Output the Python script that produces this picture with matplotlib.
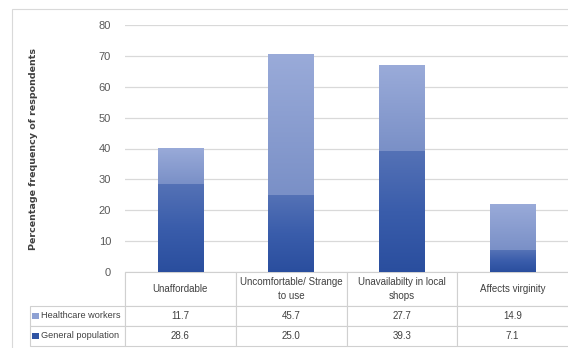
import numpy as np
import matplotlib.pyplot as plt
from matplotlib.colors import LinearSegmentedColormap
from matplotlib.patches import Rectangle

plt.rcParams['font.family'] = ['Liberation Sans Narrow', 'Liberation Sans', 'DejaVu Sans']

categories = ['Unaffordable', 'Uncomfortable/ Strange\nto use',
              'Unavailabilty in local\nshops', 'Affects virginity']
general = [28.6, 25.0, 39.3, 7.1]
healthcare = [11.7, 45.7, 27.7, 14.9]
series_names = ['Healthcare workers', 'General population']

gen_cmap = LinearSegmentedColormap.from_list('gen', ['#2a4e9e', '#3a5dab', '#5572b6'])
hc_cmap = LinearSegmentedColormap.from_list('hc', ['#7a90c7', '#9aabd9'])

fig = plt.figure(figsize=(5.68, 3.48), dpi=100)
AX_W, AX_H = 443, 247
ax = fig.add_axes([125 / 568, 1 - 272 / 348, AX_W / 568, AX_H / 348])

x = np.arange(len(categories))
w = 0.41
grad = np.linspace(0, 1, 256).reshape(-1, 1)

bars_gen = ax.bar(x, general, w, color='none', zorder=3)
bars_hc = ax.bar(x, healthcare, w, bottom=general, color='none', zorder=3)
for bars, cmap in ((bars_gen, gen_cmap), (bars_hc, hc_cmap)):
    for b in bars:
        x0, y0 = b.get_x(), b.get_y()
        im = ax.imshow(grad, cmap=cmap, origin='lower', aspect='auto',
                       extent=[x0, x0 + b.get_width(), y0, y0 + b.get_height()],
                       zorder=3)
        im.set_clip_path(b)

ax.set_xlim(-0.5, len(categories) - 0.5)
ax.set_ylim(0, 80)
ax.set_yticks(range(0, 81, 10))
ax.set_xticks([])
ax.grid(axis='y', color='#d9d9d9', linewidth=0.9, zorder=0)
ax.set_axisbelow(True)
for s in ax.spines.values():
    s.set_visible(False)
ax.tick_params(axis='y', length=0, labelsize=8, labelcolor='#595959', pad=10)
ax.set_ylabel('Percentage frequency of respondents', fontsize=6.8, fontweight='bold',
              color='#404040', family=['DejaVu Sans'], labelpad=44)

# data table under the bars (first column holds the series names)
cell_text = [[series_names[0]] + [f'{v:.1f}' for v in healthcare],
             [series_names[1]] + [f'{v:.1f}' for v in general]]
tab = ax.table(cellText=cell_text, colLabels=[''] + categories,
               cellLoc='center',
               bbox=[-95 / AX_W, -74 / AX_H, 538 / AX_W, 74 / AX_H])
tab.auto_set_font_size(False)
for (r, c), cell in tab.get_celld().items():
    cell.set_edgecolor('#d0d0d0')
    cell.set_linewidth(0.8)
    cell.get_text().set_fontsize(7)
    cell.get_text().set_color('#404040')
    cell.get_text().set_linespacing(1.5)
    cell.set_height((34 if r == 0 else 20) / AX_H)
    cell.set_width((95 if c == 0 else 110.75) / AX_W)
    if c == 0:
        cell.get_text().set_horizontalalignment('left')
        cell.get_text().set_fontsize(6.6)
        cell._loc = 'left'
        cell._padding = 0.12
        cell.PAD = 0.12
        if r == 0:
            cell.visible_edges = 'R'
    if c == 4:
        cell.visible_edges = 'BTL'

# legend keys in row labels
key_colors = ['#8ea1d3', '#2f54a3']
for i, col in enumerate(key_colors):
    yc = 1 - (316 + 20 * i) / 348
    fig.patches.append(Rectangle((32 / 568, yc - 3.2 / 348), 6.5 / 568, 6.5 / 348,
                                 transform=fig.transFigure, facecolor=col,
                                 edgecolor='none', zorder=0))

# outer chart border
fig.patches.append(Rectangle((12 / 568, -0.01), 1.0, 1 - 9 / 348 + 0.01,
                             transform=fig.transFigure, facecolor='none',
                             edgecolor='#d9d9d9', linewidth=0.8))

fig.savefig('out.png', dpi=100)
